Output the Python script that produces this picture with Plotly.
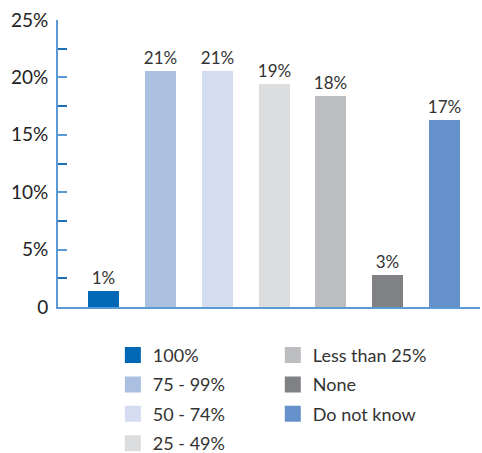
import plotly.graph_objects as go

categories = ["100%", "75 - 99%", "50 - 74%", "25 - 49%", "Less than 25%", "None", "Do not know"]
values = [1.4, 20.6, 20.6, 19.4, 18.4, 2.8, 16.3]
labels = ["1%", "21%", "21%", "19%", "18%", "3%", "17%"]
colors = ["#0068b4", "#abbfe0", "#d4dcef", "#dcdddf", "#bcbdc1", "#808185", "#6592cb"]
legend_ids = ["legend", "legend", "legend", "legend", "legend2", "legend2", "legend2"]
y_ticks = [0, 5, 10, 15, 20, 25]
y_ticktext = ["0", "5%", "10%", "15%", "20%", "25%"]

FONT = "Lato, 'Open Sans', sans-serif"

fig = go.Figure()
for i, c in enumerate(categories):
    fig.add_trace(go.Bar(
        x=[i], y=[values[i]], name=c, text=[labels[i]],
        textposition="outside", cliponaxis=False, constraintext="none",
        textfont=dict(size=17, color="#333333", family=FONT),
        marker=dict(color=colors[i], line=dict(width=0)),
        width=0.545, showlegend=False,
    ))
# legend entries (square swatches)
for i, c in enumerate(categories):
    fig.add_trace(go.Scatter(
        x=[None], y=[None], mode="markers", name=c,
        marker=dict(symbol="square", size=16, color=colors[i], line=dict(width=0)),
        legend=legend_ids[i], legendgroup=c, showlegend=True,
    ))

legend_common = dict(yanchor="top", xanchor="left", orientation="v",
                     font=dict(size=18, color="#333333", family=FONT),
                     tracegroupgap=3, itemwidth=30, itemsizing="trace",
                     bgcolor="rgba(0,0,0,0)", borderwidth=0)

fig.update_layout(
    width=482, height=453,
    margin=dict(l=58, r=2, t=20, b=146, autoexpand=False),
    paper_bgcolor="white", plot_bgcolor="white",
    font=dict(family=FONT, color="#222222"),
    showlegend=True,
    bargap=0,
    legend=dict(x=0.130, y=-0.104, **legend_common),
    legend2=dict(x=0.509, y=-0.104, **legend_common),
)
fig.update_xaxes(range=[-0.8, 6.62], showticklabels=False, showgrid=False,
                 zeroline=False, showline=True, linecolor="#5b9bd5", linewidth=2,
                 ticks="")
fig.update_yaxes(range=[0, 25], tickvals=y_ticks, ticktext=y_ticktext,
                 tickfont=dict(size=19, color="#222222"),
                 showgrid=False, zeroline=False, showline=True,
                 linecolor="#5b9bd5", linewidth=2,
                 ticks="inside", ticklen=9, tickcolor="#5b9bd5", tickwidth=2,
                 minor=dict(dtick=2.5, ticks="inside", ticklen=9,
                            tickcolor="#1f6fb5", tickwidth=1.5, showgrid=False),
                 ticklabelstandoff=4)

fig.write_html("out.html")
